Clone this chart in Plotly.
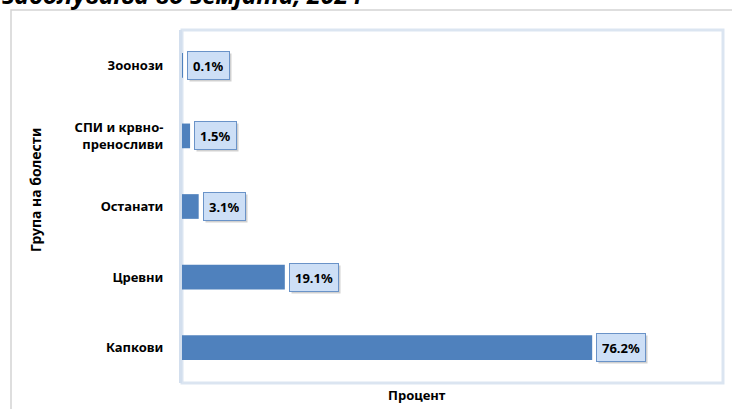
import plotly.graph_objects as go

categories = ["Зоонози", "СПИ и крвно-<br>преносливи", "Останати", "Цревни", "Капкови"]
values = [0.1, 1.5, 3.1, 19.1, 76.2]
value_labels = ["0.1%", "1.5%", "3.1%", "19.1%", "76.2%"]

W, H = 732, 409
L, R, T, B = 182, 723, 30, 383
PW, PH = R - L, B - T

def px(xp):
    return (xp - L) / PW

def py(yp):
    return (B - yp) / PH

FONT = "Noto Sans"

fig = go.Figure()
fig.add_trace(go.Bar(
    x=values, y=categories, orientation="h",
    marker=dict(color="#4f81bd", line=dict(width=0)),
    hoverinfo="skip",
))

annotations = []
for cat, v, lab in zip(categories, values, value_labels):
    # shadow
    annotations.append(dict(
        x=v, y=cat, xref="x", yref="y", text="<b>%s</b>" % lab,
        showarrow=False, xanchor="left", yanchor="middle",
        xshift=6, yshift=-2, height=17,
        font=dict(family=FONT, size=13, color="rgba(0,0,0,0)"),
        bgcolor="rgba(120,120,120,0.35)", bordercolor="rgba(0,0,0,0)",
        borderwidth=1, borderpad=5,
    ))
    annotations.append(dict(
        x=v, y=cat, xref="x", yref="y", text="<b>%s</b>" % lab,
        showarrow=False, xanchor="left", yanchor="middle",
        xshift=4, yshift=0, height=17,
        font=dict(family=FONT, size=13, color="#000000"),
        bgcolor="#cddff6", bordercolor="#6a93c8",
        borderwidth=1, borderpad=5,
    ))

# cut-off title at top
annotations.append(dict(
    x=px(0), y=1, xref="paper", yref="paper",
    text="<b><i>заболувања во земјата, 2024</i></b>",
    showarrow=False, xanchor="left", yanchor="bottom", yshift=17,
    font=dict(family=FONT, size=25, color="#000000"),
))
# y-axis title
annotations.append(dict(
    x=px(35), y=py(190), xref="paper", yref="paper",
    text="<b>Група на болести</b>", textangle=-90,
    showarrow=False, xanchor="center", yanchor="middle",
    font=dict(family=FONT, size=14, color="#000000"),
))
# x-axis title
annotations.append(dict(
    x=px(417), y=py(395), xref="paper", yref="paper",
    text="<b>Процент</b>",
    showarrow=False, xanchor="center", yanchor="middle",
    font=dict(family=FONT, size=13, color="#000000"),
))

shapes = [
    # outer chart frame
    dict(type="rect", xref="paper", yref="paper",
         x0=px(11), x1=px(740), y0=py(420), y1=py(10),
         line=dict(color="#d4d4d4", width=1.5), fillcolor="rgba(0,0,0,0)", layer="below"),
    # plot area frame
    dict(type="rect", xref="paper", yref="paper",
         x0=0, x1=1, y0=0, y1=1,
         line=dict(color="#dbe5f1", width=3), fillcolor="rgba(0,0,0,0)", layer="below"),
]

fig.update_layout(
    width=W, height=H,
    margin=dict(l=L, r=W - R, t=T, b=H - B),
    paper_bgcolor="white", plot_bgcolor="white",
    bargap=0.65,
    showlegend=False,
    annotations=annotations,
    shapes=shapes,
    xaxis=dict(range=[0, 100.5], showticklabels=False, showgrid=False,
               zeroline=False, showline=False, fixedrange=True),
    yaxis=dict(autorange="reversed", showgrid=False, zeroline=False,
               showline=True, linecolor="#d3dfee", linewidth=3,
               ticks="outside", ticklen=13, tickcolor="rgba(0,0,0,0)",
               tickfont=dict(family=FONT, size=13, color="#000000", weight="bold"),
               fixedrange=True),
)

fig.write_html(
    "out.html",
    config={"displayModeBar": False},
    post_script="document.body.style.margin='0';document.body.style.overflow='hidden';",
)
